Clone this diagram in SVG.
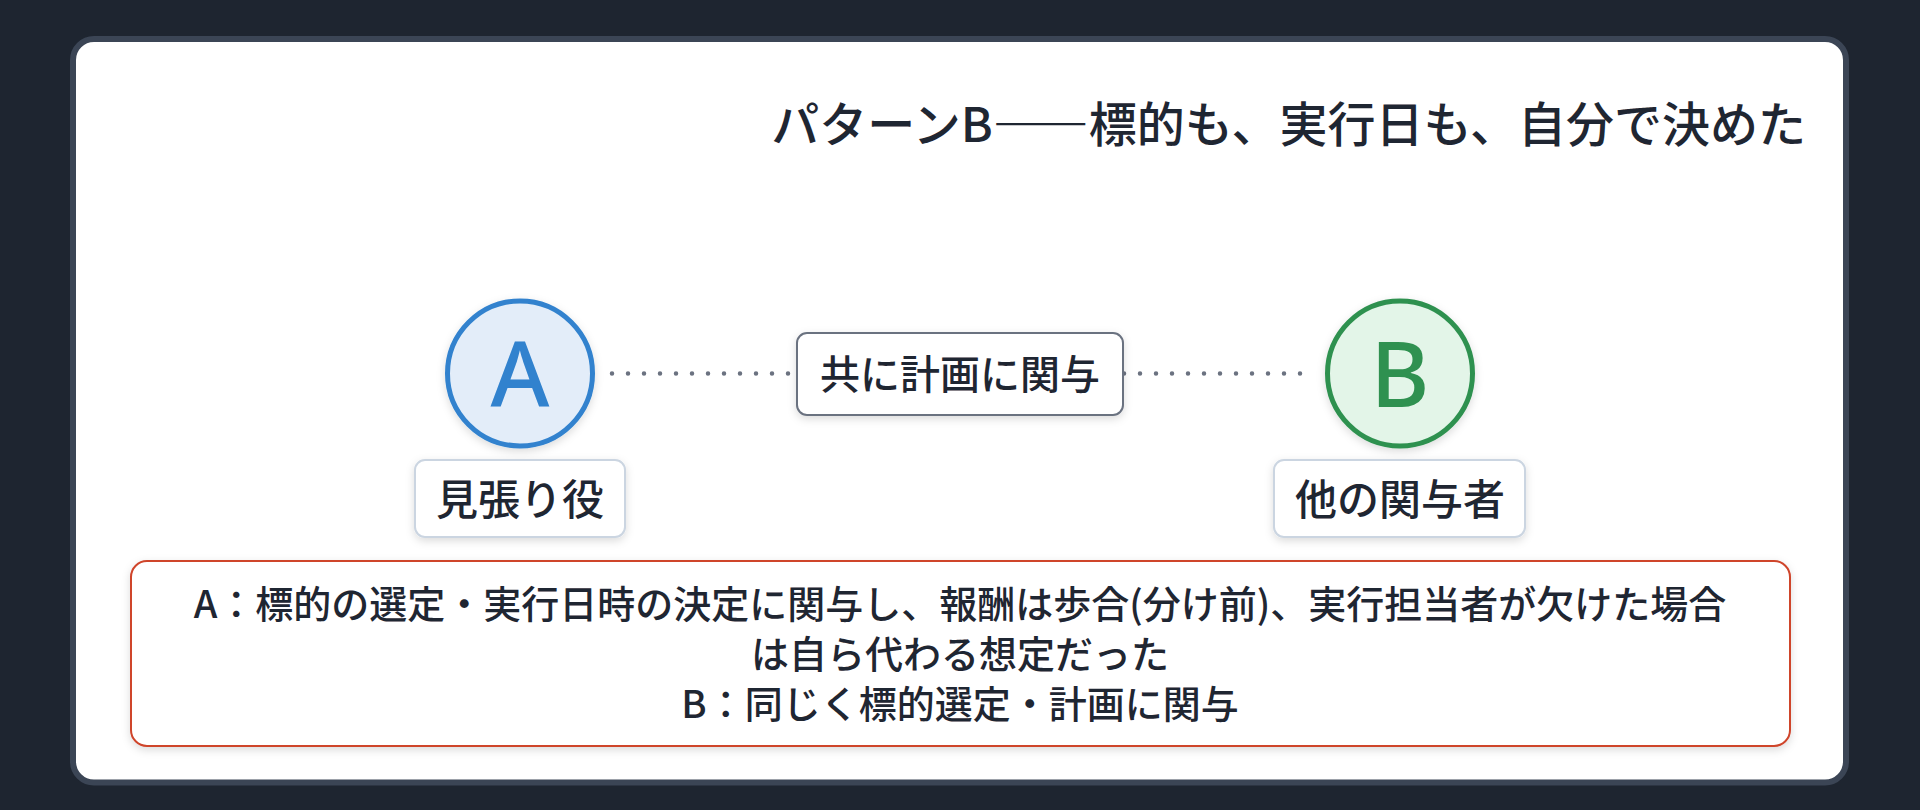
<svg xmlns="http://www.w3.org/2000/svg" width="1920" height="810" viewBox="0 0 1920 810">
  <defs>
    <filter id="shadow" x="-20%" y="-30%" width="140%" height="160%">
      <feDropShadow dx="0" dy="3" stdDeviation="4" flood-color="#000000" flood-opacity="0.14"/>
    </filter>
    <style>
      .txt { font-family: "Noto Sans CJK JP", "Noto Sans", "Liberation Sans", sans-serif; fill: #1f2632; font-weight: 500; }
      .title { font-size: 48px; text-anchor: end; }
      .lbl { font-size: 42px; text-anchor: middle; }
      .mid { font-size: 40px; text-anchor: middle; }
      .note { font-size: 38px; text-anchor: middle; }
      .letter { font-family: "Noto Sans", "Liberation Sans", sans-serif; font-size: 90px; font-weight: 500; text-anchor: middle; }
      .box { fill: #ffffff; stroke-width: 2; filter: url(#shadow); }
      .conn { stroke: #6b7280; stroke-width: 4.5; stroke-linecap: round; stroke-dasharray: 0 16; fill: none; }
    </style>
  </defs>
  <rect x="0" y="0" width="1920" height="810" fill="#1e2530"/>
  <rect x="73" y="39" width="1773" height="743.5" rx="21" fill="#ffffff" stroke="#3b4555" stroke-width="6"/>

  <g id="title">
    <text class="txt title" x="1806" y="142">パターンB――標的も、実行日も、自分で決めた</text>
  </g>

  <g id="connectors">
    <line class="conn" x1="612" y1="373.5" x2="1302" y2="373.5"/>
  </g>

  <g id="node-link-label">
    <rect class="box" x="797" y="333" width="326" height="82" rx="10" stroke="#6b7280"/>
    <text class="txt mid" x="960" y="389">共に計画に関与</text>
  </g>

  <g id="node-A">
    <circle cx="520" cy="373.5" r="72.5" fill="#e3edf9" stroke="#3182ce" stroke-width="5" filter="url(#shadow)"/>
    <text class="letter" x="520" y="406.5" fill="#3182ce">A</text>
  </g>

  <g id="node-A-label">
    <rect class="box" x="415" y="460" width="210" height="77" rx="10" stroke="#cbd5e1"/>
    <text class="txt lbl" x="520" y="515">見張り役</text>
  </g>

  <g id="node-B">
    <circle cx="1400" cy="373.5" r="72.5" fill="#e3f5e8" stroke="#2f9150" stroke-width="5" filter="url(#shadow)"/>
    <text class="letter" x="1400" y="406.5" fill="#2f9150">B</text>
  </g>

  <g id="node-B-label">
    <rect class="box" x="1274" y="460" width="251" height="77" rx="10" stroke="#cbd5e1"/>
    <text class="txt lbl" x="1400" y="515">他の関与者</text>
  </g>

  <g id="note">
    <rect class="box" x="131" y="561" width="1659" height="185" rx="16" stroke="#cf442b" stroke-width="3"/>
    <text class="txt note" x="960" y="618">A：標的の選定・実行日時の決定に関与し、報酬は歩合(分け前)、実行担当者が欠けた場合</text>
    <text class="txt note" x="960" y="668">は自ら代わる想定だった</text>
    <text class="txt note" x="960" y="718">B：同じく標的選定・計画に関与</text>
  </g>
</svg>
